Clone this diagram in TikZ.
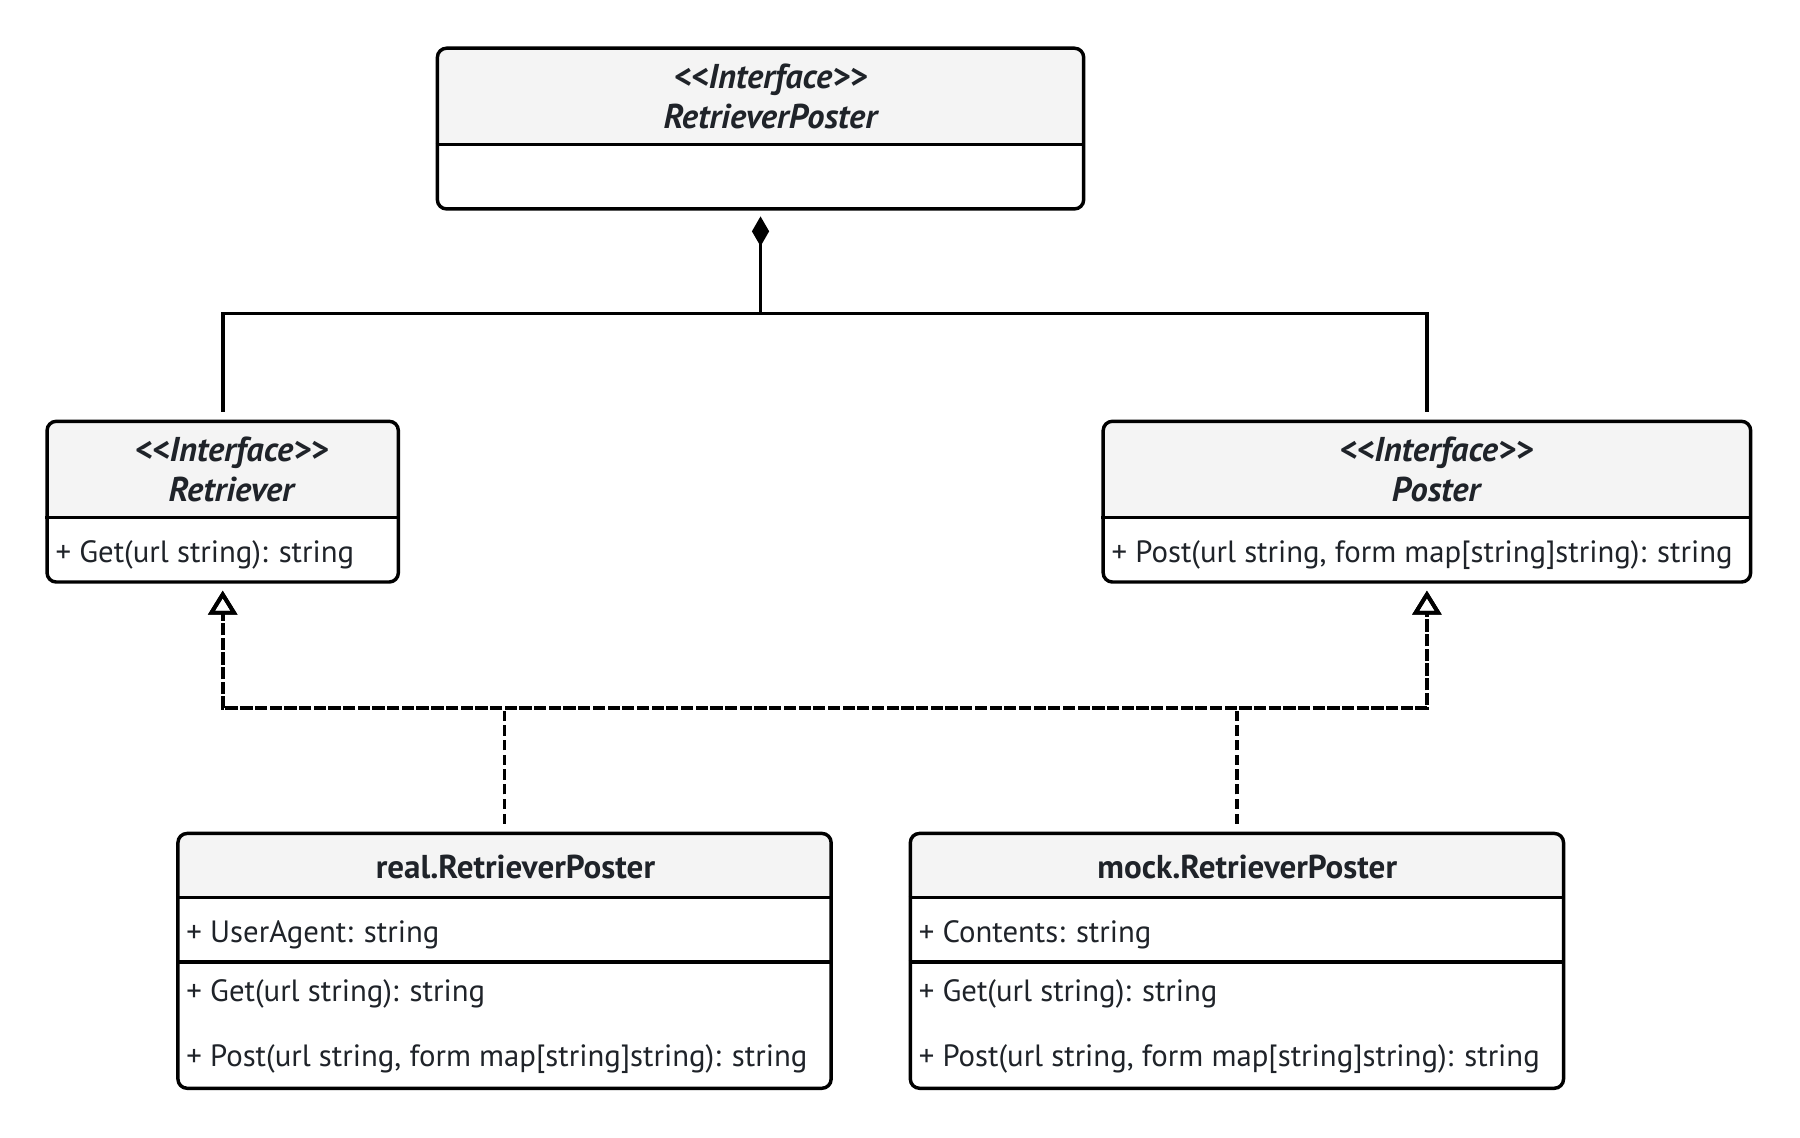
\documentclass[tikz,border=0pt]{standalone}
\usepackage{fontspec}
\setmainfont{PT Sans}
\usetikzlibrary{arrows.meta,fit}
\definecolor{hdr}{HTML}{F4F4F4}
\definecolor{ink}{HTML}{1F2329}
\begin{document}
\begin{tikzpicture}[x=0.5pt,y=-0.5pt,
  box/.style={draw=black,line width=1.5pt,rounded corners=4pt,inner sep=0pt},
  sep/.style={draw=black,line width=1.5pt},
  ttl/.style={font=\fontsize{15}{18}\selectfont\bfseries\itshape,text=ink,anchor=base,inner sep=0pt},
  cls/.style={font=\fontsize{14.4}{17}\selectfont\bfseries,text=ink,anchor=base,inner sep=0pt},
  mem/.style={font=\fontsize{13.4}{16}\selectfont,text=ink,anchor=base west,inner sep=0pt},
  solidline/.style={line width=1.6pt,draw=black},
  dashline/.style={line width=1.6pt,draw=black,dash pattern=on 4.4pt off 2pt,
    -{Triangle[open,length=10.5pt,width=12.5pt,line width=1.7pt]},shorten >=3pt,shorten <=3.5pt}
]
\useasboundingbox (0,0) rectangle (1568,991);
\fill[white] (0,0) rectangle (1568,991);

% header fills
\begin{scope}
\clip[rounded corners=4pt] (381,42) rectangle (944,182);
\fill[hdr] (381,42) rectangle (944,126);
\end{scope}
\begin{scope}
\clip[rounded corners=4pt] (41,367) rectangle (347,507);
\fill[hdr] (41,367) rectangle (347,451);
\end{scope}
\begin{scope}
\clip[rounded corners=4pt] (961,367) rectangle (1525,507);
\fill[hdr] (961,367) rectangle (1525,451);
\end{scope}
\begin{scope}
\clip[rounded corners=4pt] (155,726) rectangle (724,948);
\fill[hdr] (155,726) rectangle (724,782);
\end{scope}
\begin{scope}
\clip[rounded corners=4pt] (793,726) rectangle (1362,948);
\fill[hdr] (793,726) rectangle (1362,782);
\end{scope}

% boxes
\node[box,fit={(381,42)(944,182)}] (rp) {};
\draw[sep] (rp.west |- 0,126) -- (rp.east |- 0,126);
\node[ttl] (rpA) at (671,77) {<\kern0pt<Interface>\kern0pt>};
\node[ttl] (rpB) at (671,112) {RetrieverPoster};

\node[box,fit={(41,367)(347,507)}] (ret) {};
\draw[sep] (ret.west |- 0,451) -- (ret.east |- 0,451);
\node[ttl] (retA) at (201.5,402) {<\kern0pt<Interface>\kern0pt>};
\node[ttl] (retB) at (201.5,437) {Retriever};
\node[mem] (retM) at (48,490) {+ Get(url string): string};

\node[box,fit={(961,367)(1525,507)}] (pos) {};
\draw[sep] (pos.west |- 0,451) -- (pos.east |- 0,451);
\node[ttl] (posA) at (1251,402) {<\kern0pt<Interface>\kern0pt>};
\node[ttl] (posB) at (1251,437) {Poster};
\node[mem] (posM) at (968,490) {+ Post(url string, form map[string]string): string};

\node[box,fit={(155,726)(724,948)}] (real) {};
\draw[sep] (real.west |- 0,782) -- (real.east |- 0,782);
\draw[sep] (real.west |- 0,838) -- (real.east |- 0,838);
\node[cls] (realT) at (449,765) {real.RetrieverPoster};
\node[mem] (realA) at (162,821) {+ UserAgent: string};
\node[mem] (realG) at (162,872) {+ Get(url string): string};
\node[mem] (realP) at (162,929) {+ Post(url string, form map[string]string): string};

\node[box,fit={(793,726)(1362,948)}] (mock) {};
\draw[sep] (mock.west |- 0,782) -- (mock.east |- 0,782);
\draw[sep] (mock.west |- 0,838) -- (mock.east |- 0,838);
\node[cls] (mockT) at (1086.5,765) {mock.RetrieverPoster};
\node[mem] (mockA) at (800,821) {+ Contents: string};
\node[mem] (mockG) at (800,872) {+ Get(url string): string};
\node[mem] (mockP) at (800,929) {+ Post(url string, form map[string]string): string};

% composition
\coordinate (j1) at (662.5,273);
\draw[solidline,{Diamond[length=13pt,width=7.5pt]}-,shorten <=2.5pt] (rp.south) -- (j1);
\draw[solidline,shorten >=3.5pt] (j1) -| (ret.north);
\draw[solidline,shorten >=3.5pt] (j1) -| (pos.north);

% realizations
\coordinate (bus) at (0,617);
\draw[dashline] (real.north) -- (real.north |- bus) -| (ret.south);
\draw[dashline] (real.north) -- (real.north |- bus) -| (pos.south);
\draw[dashline] (mock.north) -- (mock.north |- bus) -| (ret.south);
\draw[dashline] (mock.north) -- (mock.north |- bus) -| (pos.south);
\end{tikzpicture}
\end{document}
